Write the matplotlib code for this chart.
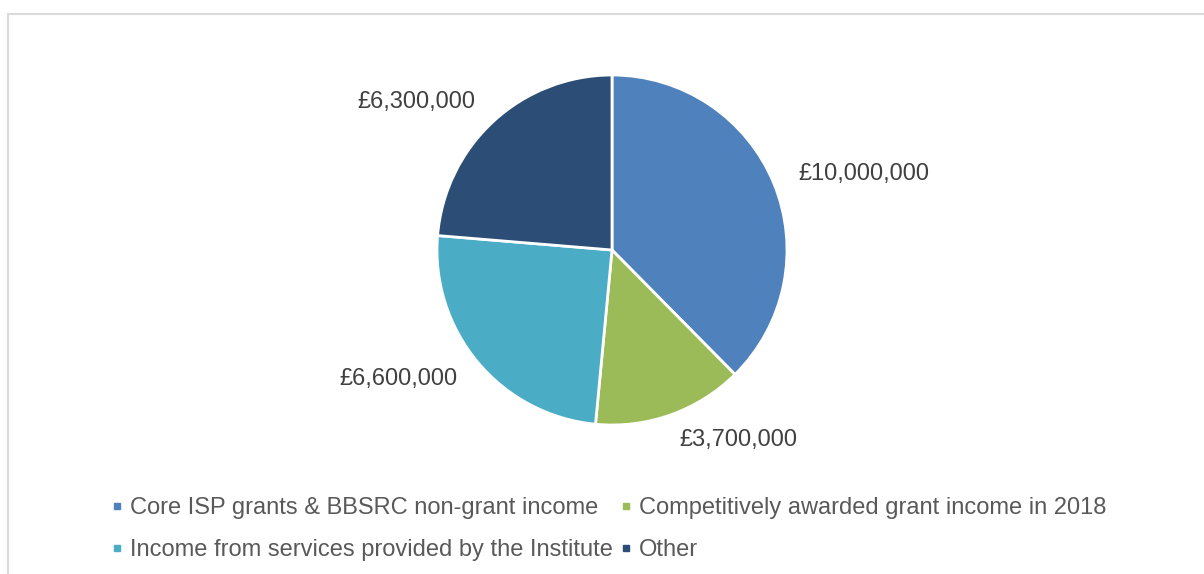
import matplotlib
matplotlib.use("Agg")
import matplotlib.pyplot as plt
from matplotlib.lines import Line2D
from matplotlib.patches import Rectangle

plt.rcParams["font.family"] = ["Liberation Sans", "DejaVu Sans"]

# Income sources (GBP)
categories = [
    "Core ISP grants & BBSRC non-grant income",
    "Competitively awarded grant income in 2018",
    "Income from services provided by the Institute",
    "Other",
]
income = [10_000_000, 3_700_000, 6_600_000, 6_300_000]
colors = ["#4f81bd", "#9bbb59", "#4bacc6", "#2c4d75"]

W, H = 1204, 574
fig = plt.figure(figsize=(W / 100, H / 100), dpi=100)

# light grey chart-area border
fig.patches.append(Rectangle((8 / W, -0.1), 1.2, 1.1 - 14 / H,
                             transform=fig.transFigure, fill=False,
                             edgecolor="#d9d9d9", linewidth=1.5))

ax = fig.add_axes([437 / W, 149 / H, 350 / W, 350 / H])
labels = [f"£{v:,.0f}" for v in income]
wedges, texts = ax.pie(income, colors=colors, startangle=90, counterclock=False,
                       labels=labels, labeldistance=1.15,
                       wedgeprops=dict(edgecolor="white", linewidth=2),
                       textprops=dict(color="#404040", fontsize=17))
ax.set_xlim(-1, 1)
ax.set_ylim(-1, 1)
ax.set_aspect("equal")

# legend: two rows, filled row by row
order = [0, 2, 1, 3]
handles = [Line2D([], [], linestyle="none", marker="s", markersize=5,
                  markerfacecolor=colors[i], markeredgecolor=colors[i]) for i in order]
fig.legend(handles, [categories[i] for i in order], ncol=2,
           loc="center", bbox_to_anchor=(610 / W, 1 - 529 / H),
           frameon=False, fontsize=17, labelcolor="#595959",
           handlelength=0.3, handletextpad=0.4, columnspacing=0.4,
           labelspacing=0.85, borderpad=0)

fig.savefig("out.png", dpi=100, facecolor="white")
